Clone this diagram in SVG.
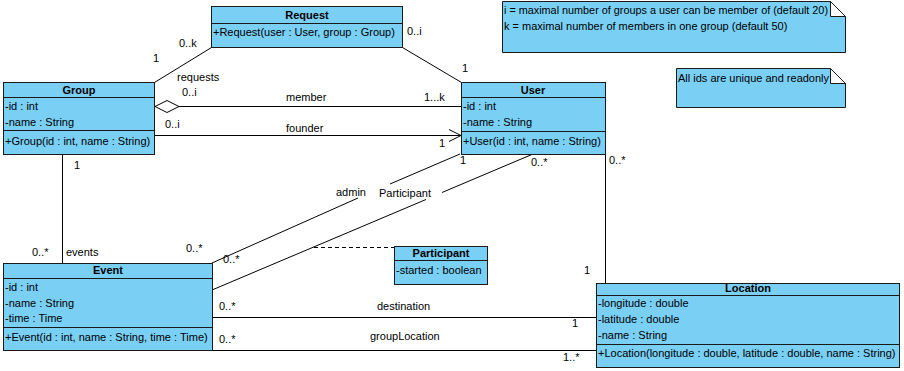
<svg xmlns="http://www.w3.org/2000/svg" width="904" height="371" viewBox="0 0 904 371">
  <style>
    text { font-family: "Liberation Sans", Arial, sans-serif; font-size: 11px; fill: #000; }
    .title { font-weight: bold; text-anchor: middle; }
    .box { fill: #7acff5; stroke: #1a1a1a; stroke-width: 1; }
    .div { stroke: #1a1a1a; stroke-width: 1; fill: none; }
    .fold { fill: #fff; stroke: #1a1a1a; stroke-width: 1; }
    .ln { stroke: #000; stroke-width: 1; fill: none; }
    .dash { stroke: #000; stroke-width: 1; fill: none; stroke-dasharray: 4 3; }
  </style>
  <defs>
    <clipPath id="locClip"><rect x="596" y="283" width="303" height="84"/></clipPath>
  </defs>

  <!-- associations -->
  <g id="connectors">
    <!-- requests: Group/User to Request -->
    <line class="ln" x1="211.5" y1="47.5" x2="154.5" y2="82.5"/>
    <line class="ln" x1="402.5" y1="47.5" x2="461.5" y2="82.5"/>
    <!-- member (aggregation) -->
    <line class="ln" x1="179" y1="106.5" x2="461" y2="106.5"/>
    <polygon points="155,106.5 167,100.5 179,106.5 167,112.5" fill="#fff" stroke="#000" stroke-width="1"/>
    <!-- founder (navigable) -->
    <line class="ln" x1="154" y1="135.5" x2="461" y2="135.5"/>
    <polyline class="ln" points="449,129.5 461,135.5 449,141.5"/>
    <!-- events -->
    <line class="ln" x1="62.5" y1="154" x2="62.5" y2="263"/>
    <!-- admin -->
    <line class="ln" x1="212" y1="263" x2="358" y2="198"/>
    <line class="ln" x1="390" y1="184" x2="460" y2="154"/>
    <!-- Participant -->
    <line class="ln" x1="212" y1="290" x2="426" y2="199.5"/>
    <line class="ln" x1="442" y1="192.5" x2="533" y2="154"/>
    <line class="dash" x1="314" y1="247.5" x2="394" y2="247.5"/>
    <!-- User - Location -->
    <line class="ln" x1="605.5" y1="154" x2="605.5" y2="283"/>
    <!-- destination / groupLocation -->
    <line class="ln" x1="212" y1="317.5" x2="596" y2="317.5"/>
    <line class="ln" x1="212" y1="350.5" x2="596" y2="350.5"/>

    <!-- role names and multiplicities -->
    <text x="179" y="47">0..k</text>
    <text x="153" y="62">1</text>
    <text x="177" y="81">requests</text>
    <text x="407" y="35">0..i</text>
    <text x="462" y="72">1</text>
    <text x="182" y="96">0..i</text>
    <text x="286" y="101">member</text>
    <text x="424" y="101">1...k</text>
    <text x="165" y="128">0..i</text>
    <text x="286" y="132">founder</text>
    <text x="439" y="147">1</text>
    <text x="74" y="169">1</text>
    <text x="32" y="256">0..*</text>
    <text x="66" y="256">events</text>
    <text x="186" y="252">0..*</text>
    <text x="223" y="263">0..*</text>
    <text x="336" y="196">admin</text>
    <text x="379" y="197">Participant</text>
    <text x="460" y="164">1</text>
    <text x="531" y="166">0..*</text>
    <text x="609" y="164">0..*</text>
    <text x="584" y="274">1</text>
    <text x="219" y="310">0..*</text>
    <text x="377" y="310">destination</text>
    <text x="572" y="327">1</text>
    <text x="219" y="343">0..*</text>
    <text x="370" y="340">groupLocation</text>
    <text x="563" y="361">1..*</text>
  </g>

  <g id="Request">
    <rect class="box" x="211.5" y="6.5" width="191" height="41"/>
    <line class="div" x1="211.5" y1="23.5" x2="402.5" y2="23.5"/>
    <text class="title" x="307" y="19">Request</text>
    <text x="213" y="36">+Request(user : User, group : Group)</text>
  </g>

  <g id="Group">
    <rect class="box" x="3.5" y="82.5" width="151" height="72"/>
    <line class="div" x1="3.5" y1="97.5" x2="154.5" y2="97.5"/>
    <line class="div" x1="3.5" y1="130.5" x2="154.5" y2="130.5"/>
    <text class="title" x="79" y="94">Group</text>
    <text x="5" y="110">-id : int</text>
    <text x="5" y="126">-name : String</text>
    <text x="5" y="145">+Group(id : int, name : String)</text>
  </g>

  <g id="User">
    <rect class="box" x="461.5" y="82.5" width="144" height="72"/>
    <line class="div" x1="461.5" y1="97.5" x2="605.5" y2="97.5"/>
    <line class="div" x1="461.5" y1="131.5" x2="605.5" y2="131.5"/>
    <text class="title" x="533" y="94">User</text>
    <text x="463" y="110">-id : int</text>
    <text x="463" y="126">-name : String</text>
    <text x="463" y="145">+User(id : int, name : String)</text>
  </g>

  <g id="Event">
    <rect class="box" x="3.5" y="263.5" width="209" height="87"/>
    <line class="div" x1="3.5" y1="278.5" x2="212.5" y2="278.5"/>
    <line class="div" x1="3.5" y1="327.5" x2="212.5" y2="327.5"/>
    <text class="title" x="108" y="274">Event</text>
    <text x="5" y="291">-id : int</text>
    <text x="5" y="307">-name : String</text>
    <text x="5" y="322">-time : Time</text>
    <text x="5" y="341">+Event(id : int, name : String, time : Time)</text>
  </g>

  <g id="Participant">
    <rect class="box" x="394.5" y="246.5" width="93" height="38"/>
    <line class="div" x1="394.5" y1="260.5" x2="487.5" y2="260.5"/>
    <text class="title" x="441" y="257">Participant</text>
    <text x="396" y="274">-started : boolean</text>
  </g>

  <g id="Location">
    <rect class="box" x="596.5" y="283.5" width="303" height="84"/>
    <line class="div" x1="596.5" y1="295.5" x2="899.5" y2="295.5"/>
    <line class="div" x1="596.5" y1="344.5" x2="899.5" y2="344.5"/>
    <text class="title" x="748" y="292">Location</text>
    <text x="598" y="307">-longitude : double</text>
    <text x="598" y="323">-latitude : double</text>
    <text x="598" y="339">-name : String</text>
    <text x="598" y="357" clip-path="url(#locClip)">+Location(longitude : double, latitude : double, name : String)</text>
  </g>

  <g id="NoteLimits">
    <path class="box" d="M502.5,1.5 H830.5 L845.5,16.5 V52.5 H502.5 Z"/>
    <polygon class="fold" points="830.5,1.5 830.5,16.5 845.5,16.5"/>
    <text x="504" y="14" textLength="324" lengthAdjust="spacingAndGlyphs">i = maximal number of groups a user can be member of (default 20)</text>
    <text x="504" y="30">k = maximal number of members in one group (default 50)</text>
  </g>

  <g id="NoteIds">
    <path class="box" d="M676.5,68.5 H830.5 L845.5,83.5 V107.5 H676.5 Z"/>
    <polygon class="fold" points="830.5,68.5 830.5,83.5 845.5,83.5"/>
    <text x="678" y="82">All ids are unique and readonly</text>
  </g>
</svg>
